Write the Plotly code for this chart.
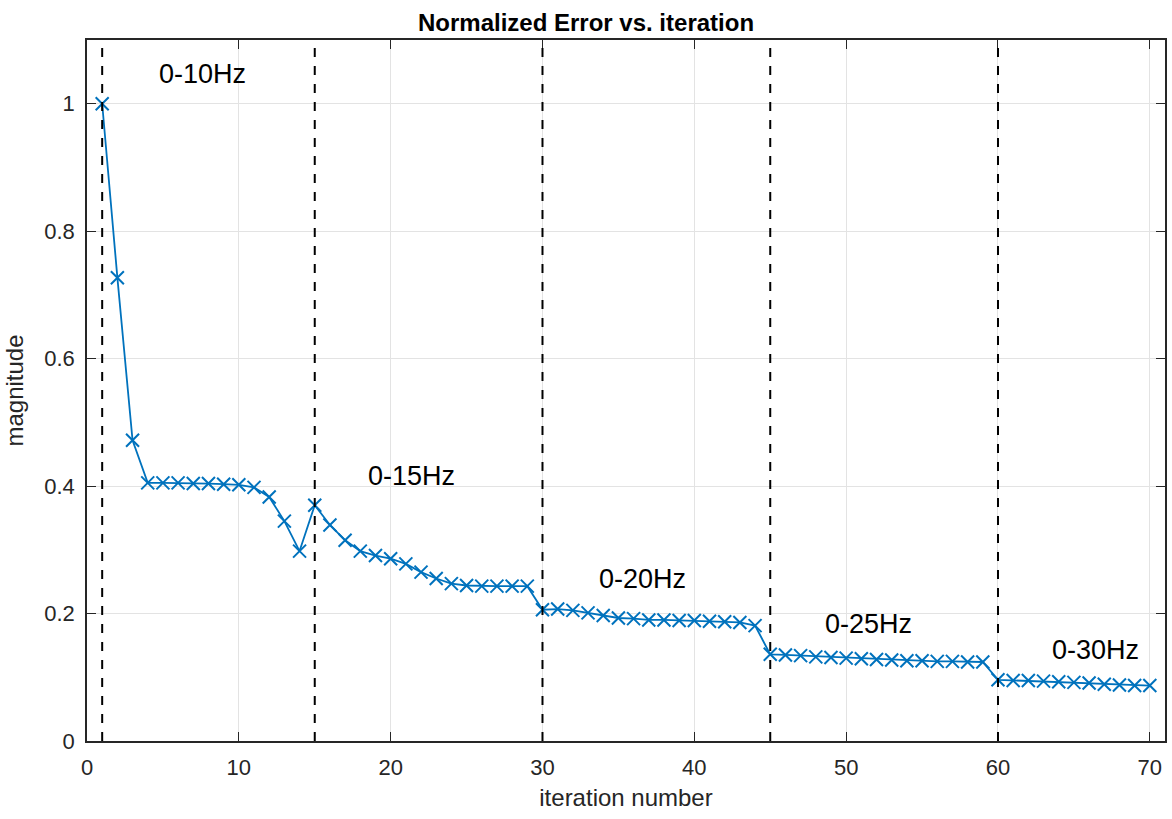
import plotly.graph_objects as go

# Normalized error per iteration (multi-scale inversion, 5 frequency bands)
iterations = list(range(1, 71))
error = [
    1.000, 0.727, 0.472, 0.405, 0.405, 0.405, 0.404, 0.404, 0.403, 0.402,
    0.398, 0.383, 0.345, 0.298, 0.370, 0.339, 0.315, 0.298, 0.291, 0.286,
    0.278, 0.265, 0.255, 0.247, 0.244, 0.243, 0.243, 0.243, 0.243, 0.206,
    0.207, 0.205, 0.201, 0.197, 0.193, 0.192, 0.190, 0.190, 0.189, 0.189,
    0.188, 0.187, 0.186, 0.181, 0.136, 0.135, 0.134, 0.132, 0.131, 0.130,
    0.129, 0.128, 0.127, 0.126, 0.126, 0.125, 0.125, 0.124, 0.124, 0.096,
    0.095, 0.095, 0.094, 0.093, 0.092, 0.091, 0.089, 0.088, 0.087, 0.087,
]

# Frequency band boundaries and their labels
band_starts = [1, 15, 30, 45, 60]
band_labels = ["0-10Hz", "0-15Hz", "0-20Hz", "0-25Hz", "0-30Hz"]
label_x = [7.6, 21.4, 36.6, 51.5, 66.4]
label_y = [1.046, 0.416, 0.254, 0.183, 0.143]

x_ticks = [0, 10, 20, 30, 40, 50, 60, 70]
y_ticks = [0, 0.2, 0.4, 0.6, 0.8, 1.0]

FONT = "Liberation Sans, Arial, sans-serif"
BLUE = "#0072BD"

fig = go.Figure()

fig.add_trace(go.Scatter(
    x=iterations, y=error, mode="lines+markers",
    line=dict(color=BLUE, width=1.8),
    marker=dict(symbol="x-thin", size=13, line=dict(color=BLUE, width=2), color=BLUE),
    showlegend=False, hoverinfo="x+y",
))

for xs in band_starts:
    fig.add_shape(type="line", x0=xs, x1=xs, y0=0, y1=1, xref="x", yref="paper",
                  line=dict(color="black", width=2, dash="dash"), layer="above")

for txt, lx, ly in zip(band_labels, label_x, label_y):
    fig.add_annotation(x=lx, y=ly, text=txt, showarrow=False,
                       font=dict(family=FONT, size=27, color="black"),
                       xanchor="center", yanchor="middle")

axis_common = dict(
    showline=True, linecolor="#262626", linewidth=1.5, mirror="ticks",
    ticks="inside", ticklen=9, tickwidth=1.2, tickcolor="#262626",
    showgrid=True, gridcolor="#e3e3e3", gridwidth=1.3, zeroline=False,
    tickfont=dict(family=FONT, size=22, color="#262626"),
)

fig.update_xaxes(range=[0, 71], tickvals=x_ticks, ticklabelstandoff=6,
                 title=dict(text="iteration number", font=dict(family=FONT, size=24, color="#262626"), standoff=10),
                 **axis_common)
fig.update_yaxes(range=[0, 1.1], tickvals=y_ticks, ticklabelstandoff=6,
                 ticktext=["0", "0.2", "0.4", "0.6", "0.8", "1"],
                 title=dict(text="magnitude", font=dict(family=FONT, size=24, color="#262626"), standoff=14),
                 **axis_common)

fig.update_layout(
    width=1172, height=819,
    margin=dict(l=87, r=5, t=40, b=78),
    plot_bgcolor="white", paper_bgcolor="white",
    title=dict(text="<b>Normalized Error vs. iteration</b>", x=0.5, xanchor="center",
               y=0.972, yanchor="middle", font=dict(family=FONT, size=24, color="black")),
)

fig.write_html("out.html")
